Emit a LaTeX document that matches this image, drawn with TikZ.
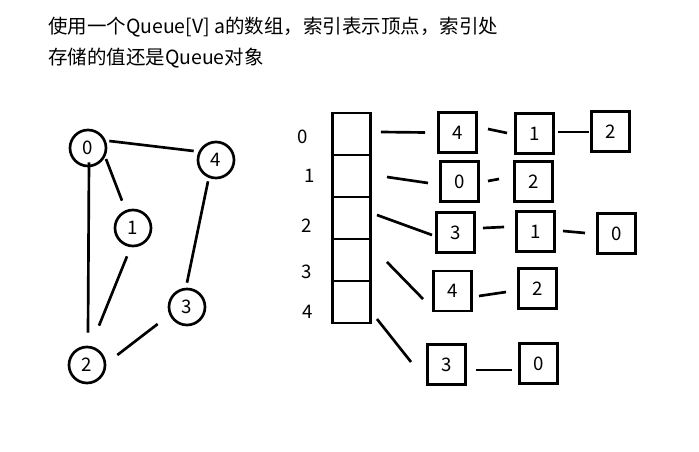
\documentclass[tikz,border=0pt]{standalone}
\usepackage{fontspec}
\setmainfont{Noto Sans CJK SC}
\usepackage{tikz}

\begin{document}
\begin{tikzpicture}[
    x=0.75pt, y=-0.75pt,
    vertex/.style={
        circle,
        draw,
        line width=2pt,
        minimum size=27pt,
        inner sep=0pt,
        font=\fontsize{14pt}{16pt}\selectfont
    },
    cell/.style={
        rectangle,
        draw,
        line width=2pt,
        minimum width=28.7pt,
        minimum height=31.5pt,
        inner sep=0pt
    },
    item/.style={
        rectangle,
        draw,
        line width=2pt,
        minimum width=28.7pt,
        minimum height=30pt,
        inner sep=0pt,
        font=\fontsize{14pt}{16pt}\selectfont
    },
    index/.style={font=\fontsize{14pt}{16pt}\selectfont, inner sep=0pt},
    link/.style={line width=2pt}
]
    \fill[white] (0,0) rectangle (699,452);

    % Caption
    \node[anchor=west, inner sep=0pt, font=\fontsize{14.6pt}{17pt}\selectfont] (line1) at (48,27)
        {使用一个Queue[V] a的数组，索引表示顶点，索引处};
    \node[anchor=west, inner sep=0pt, font=\fontsize{14.6pt}{17pt}\selectfont] (line2) at (48,58)
        {存储的值还是Queue对象};

    % Graph
    \node[vertex] (g0) at (88,148) {0};
    \node[vertex] (g4) at (216,160) {4};
    \node[vertex] (g1) at (133,228) {1};
    \node[vertex] (g3) at (187,307) {3};
    \node[vertex] (g2) at (87,365) {2};

    \draw[link] ([shift={(2,-7)}]g0.east) -- ([shift={(-3,-9)}]g4.west);
    \draw[link] ([shift={(18,11)}]g0.center) -- ([shift={(-11,-8)}]g1.north);
    \draw[link] ([shift={(1,-5)}]g0.south) -- ([shift={(1,-13)}]g2.north);
    \draw[link] ([shift={(-6,9)}]g1.south) -- ([shift={(12,-20)}]g2.north);
    \draw[link] ([shift={(-8,2)}]g4.south) -- ([shift={(0,-5)}]g3.north);
    \draw[link] ([shift={(-10,17)}]g3.west) -- ([shift={(11,-10)}]g2.east);

    % Array of queues
    \foreach \i/\y in {0/134, 1/176, 2/218, 3/260, 4/302} {
        \node[cell] (c\i) at (351.5,\y) {};
    }
    \node[index] (i0) at (303,137) {0};
    \node[index] (i1) at (310,176) {1};
    \node[index] (i2) at (307,226) {2};
    \node[index] (i3) at (307,272) {3};
    \node[index] (i4) at (308,312) {4};

    % Row 0
    \node[item] (b00) at (457.5,132.5) {4};
    \node[item] (b01) at (534.5,133.5) {1};
    \node[item] (b02) at (610.5,131.5) {2};
    \draw[link] ([shift={(9,-2)}]c0.east) -- ([shift={(-12,0)}]b00.west);
    \draw[link] ([shift={(10,-3.5)}]b00.east) -- ([shift={(-7,-0.5)}]b01.west);
    \draw[link] ([shift={(3,-1.5)}]b01.east) -- ([shift={(-1,0.5)}]b02.west);

    % Row 1
    \node[item] (b10) at (459.5,181.5) {0};
    \node[item] (b11) at (533.5,181.5) {2};
    \draw[link] ([shift={(15,1)}]c1.east) -- ([shift={(-11,1.5)}]b10.west);
    \draw[link] ([shift={(8,-0.5)}]b10.east) -- ([shift={(-14,-2.5)}]b11.west);

    % Row 2
    \node[item] (b20) at (455.5,232.5) {3};
    \node[item] (b21) at (535.5,231.5) {1};
    \node[item] (b22) at (616.5,233.5) {0};
    \draw[link] ([shift={(5,-3)}]c2.east) -- ([shift={(-3,2.5)}]b20.west);
    \draw[link] ([shift={(7,-4.5)}]b20.east) -- ([shift={(-11,-4.5)}]b21.west);
    \draw[link] ([shift={(7,-0.5)}]b21.east) -- ([shift={(-11,-0.5)}]b22.west);

    % Row 3
    \node[item] (b30) at (452.5,291) {4};
    \node[item] (b31) at (537.5,288.5) {2};
    \draw[link] ([shift={(15,2)}]c3.east) -- ([shift={(-9,8)}]b30.west);
    \draw[link] ([shift={(6,5)}]b30.east) -- ([shift={(-11,3.5)}]b31.west);

    % Row 4
    \node[item] (b40) at (446.5,364.5) {3};
    \node[item] (b41) at (538.5,363.5) {0};
    \draw[link] ([shift={(5,17)}]c4.east) -- ([shift={(-15,-2.5)}]b40.west);
    \draw[link] ([shift={(9,5.5)}]b40.east) -- ([shift={(-6,6.5)}]b41.west);
\end{tikzpicture}
\end{document}
